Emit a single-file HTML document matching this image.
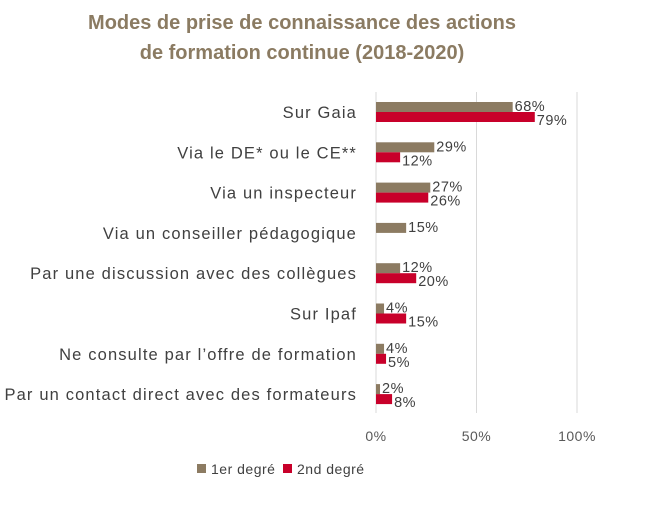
<!DOCTYPE html>
<html><head><meta charset="utf-8"><style>
body{margin:0;background:#fff;width:650px;height:511px;overflow:hidden;font-family:"Liberation Sans",sans-serif}
</style></head><body>
<svg id="c" width="650" height="511" font-family="Liberation Sans, sans-serif">
<text x="302" y="29" text-anchor="middle" font-size="20" font-weight="bold" fill="#8b7b62">Modes de prise de connaissance des actions</text>
<text x="302" y="59" text-anchor="middle" font-size="20" font-weight="bold" fill="#8b7b62">de formation continue (2018-2020)</text>
<g id="grid"></g><g id="bars"></g>
<rect x="197" y="464" width="9" height="9" fill="#8c7b62"/>
<text x="211" y="474" font-size="14" letter-spacing="0.5" fill="#404040">1er degré</text>
<rect x="283" y="464" width="9" height="9" fill="#c8002a"/>
<text x="297" y="474" font-size="14" letter-spacing="0.5" fill="#404040">2nd degré</text>
</svg>
<script>
const categories=["Sur Gaia","Via le DE* ou le CE**","Via un inspecteur","Via un conseiller pédagogique","Par une discussion avec des collègues","Sur Ipaf","Ne consulte par l’offre de formation","Par un contact direct avec des formateurs"];
const first=[68,29,27,15,12,4,4,2];
const second=[79,12,26,null,20,15,5,8];
const ticks=[0,50,100];
const NS="http://www.w3.org/2000/svg";
const x=v=>376+v*2.01;
const yc=i=>112+i*40.3;
function mk(p,t,a){const e=document.createElementNS(NS,t);for(const k in a)e.setAttribute(k,a[k]);p.appendChild(e);return e;}
const g=document.getElementById('grid'),b=document.getElementById('bars');
ticks.forEach(t=>{
 const l=mk(g,'line',{x1:x(t),x2:x(t),y1:92,y2:413,stroke:'#d9d9d9','stroke-width':1});
 
 
 const tx=mk(g,'text',{x:x(t),y:441,'text-anchor':'middle','font-size':14,'letter-spacing':0.5,fill:'#595959'});
 tx.textContent=t+'%';
 
 
});
categories.forEach((c,i)=>{
 const y=yc(i);
 const lt=mk(b,'text',{x:357,y:y+6,'text-anchor':'end','font-size':16.5,'letter-spacing':1.15,fill:'#404040'});
 lt.textContent=c;
 
 
 [[first[i],'#8c7b62',-10,-1],[second[i],'#c8002a',0,13]].forEach(([v,col,dy,ty],k)=>{
  if(v==null)return;
  const r=mk(b,'rect',{x:x(0),y:y+dy,width:x(v)-x(0),height:10,fill:col});
  
  
  const t=mk(b,'text',{x:x(v)+2,y:y+ty,'font-size':14.5,'letter-spacing':0.5,fill:'#404040'});
  t.textContent=v+'%';
  
  
 });
});
</script>
</body></html>
